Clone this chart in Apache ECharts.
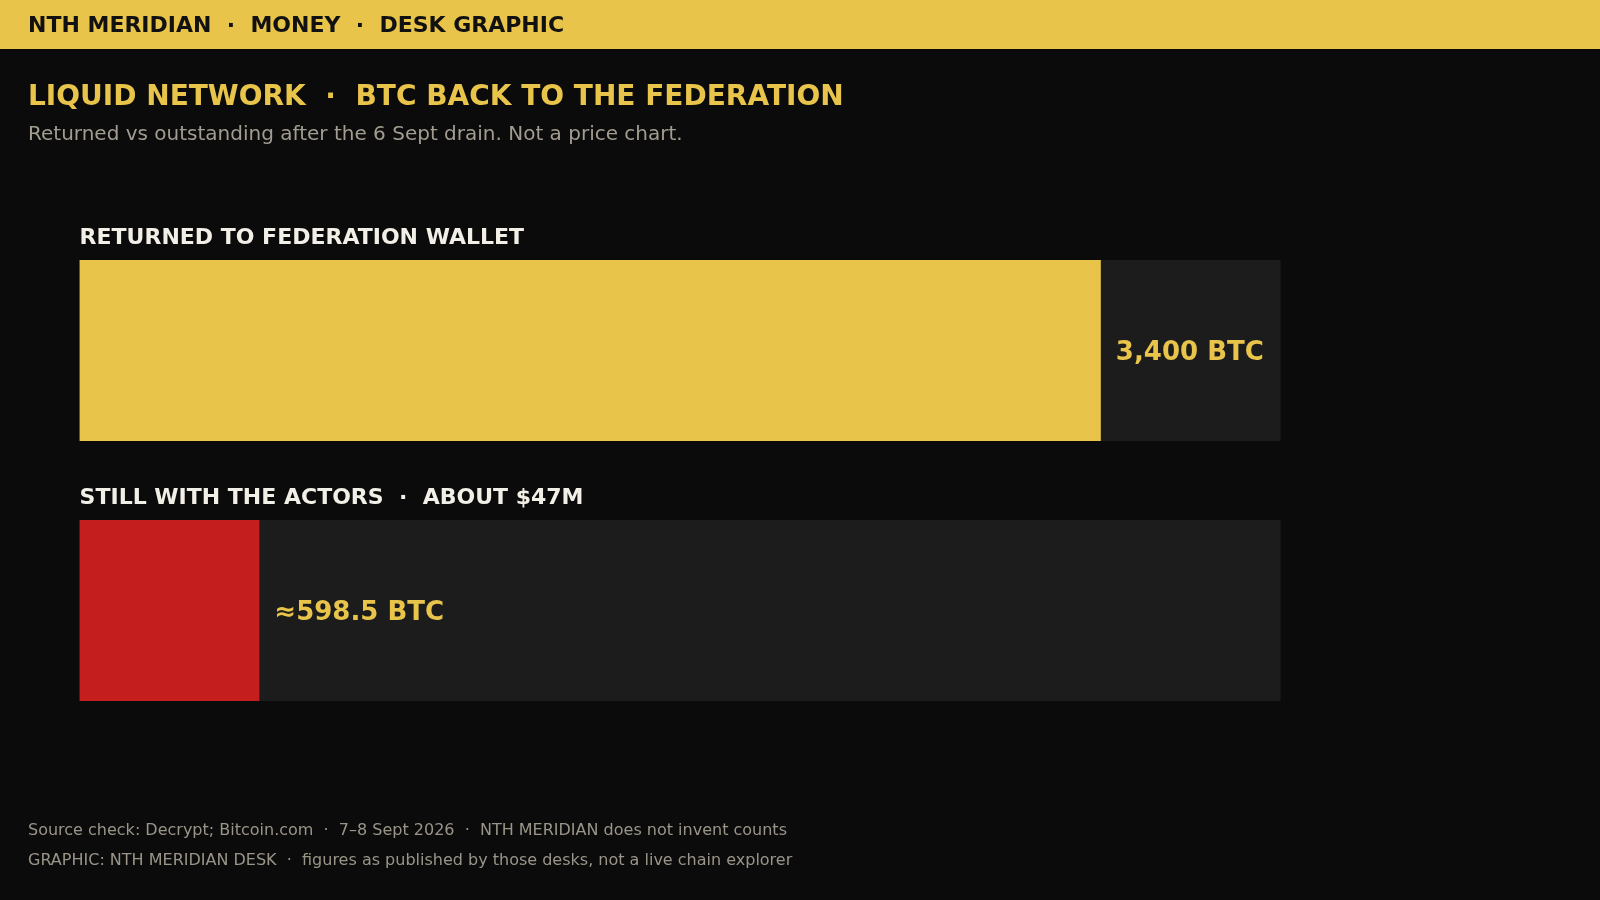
<!DOCTYPE html>
<html>
<head>
<meta charset="utf-8">
<script src="https://cdn.jsdelivr.net/npm/echarts@6/dist/echarts.min.js"></script>
<style>
html,body{margin:0;padding:0;background:#0b0b0b;}
#c{width:1600px;height:900px;}
</style>
</head>
<body>
<div id="c"></div>
<script>
const categories = ['RETURNED TO FEDERATION WALLET', 'STILL WITH THE ACTORS  ·  ABOUT $47M'];
const btcValues = [3400, 598.5];
const valueLabels = ['3,400 BTC', '≈598.5 BTC'];
const barColors = ['#e8c44a', '#c41e1e'];
const totalBtc = 3998.5;

const FONT = 'DejaVu Sans';
const chart = echarts.init(document.getElementById('c'), null, {renderer: 'canvas'});
chart.setOption({
  backgroundColor: '#0b0b0b',
  animation: false,
  graphic: [
    {type: 'rect', left: 0, top: 0, shape: {width: 1600, height: 49}, style: {fill: '#e8c44a'}, z: -1}
  ],
  title: [
    {text: 'NTH MERIDIAN  ·  MONEY  ·  DESK GRAPHIC', left: 28, top: 15, padding: 0,
     textStyle: {fontFamily: FONT, fontWeight: 'bold', fontSize: 22, color: '#111111'}},
    {text: 'LIQUID NETWORK  ·  BTC BACK TO THE FEDERATION', left: 28, top: 84, padding: 0,
     textStyle: {fontFamily: FONT, fontWeight: 'bold', fontSize: 28, color: '#e8c44a'}},
    {text: 'Returned vs outstanding after the 6 Sept drain. Not a price chart.', left: 28, top: 125, padding: 0,
     textStyle: {fontFamily: FONT, fontWeight: 'normal', fontSize: 20, color: '#a29d90'}},
    {text: 'Source check: Decrypt; Bitcoin.com  ·  7–8 Sept 2026  ·  NTH MERIDIAN does not invent counts', left: 28, top: 823, padding: 0,
     textStyle: {fontFamily: FONT, fontWeight: 'normal', fontSize: 16, color: '#9a9588'}},
    {text: 'GRAPHIC: NTH MERIDIAN DESK  ·  figures as published by those desks, not a live chain explorer', left: 28, top: 853, padding: 0,
     textStyle: {fontFamily: FONT, fontWeight: 'normal', fontSize: 16, color: '#9a9588'}}
  ],
  grid: {left: 79.6, right: 319.4, top: 220.5, bottom: 159.5, containLabel: false},
  xAxis: {type: 'value', min: 0, max: totalBtc, show: false},
  yAxis: {
    type: 'category', data: categories, inverse: true,
    axisLine: {show: false}, axisTick: {show: false}, splitLine: {show: false},
    axisLabel: {
      inside: true, margin: 0, align: 'left', verticalAlign: 'bottom',
      fontFamily: FONT, fontWeight: 'bold', fontSize: 22, color: '#f2efe6',
      padding: [0, 0, 101, 0]
    },
    z: 10
  },
  series: [{
    type: 'bar',
    data: btcValues.map((v, i) => ({value: v, itemStyle: {color: barColors[i]}})),
    barWidth: 181,
    showBackground: true,
    backgroundStyle: {color: '#1c1c1c'},
    label: {
      show: true, position: 'right', distance: 15, offset: [0, 3],
      formatter: p => valueLabels[p.dataIndex],
      fontFamily: FONT, fontWeight: 'bold', fontSize: 26, color: '#e8c44a'
    }
  }]
});
</script>
</body>
</html>
